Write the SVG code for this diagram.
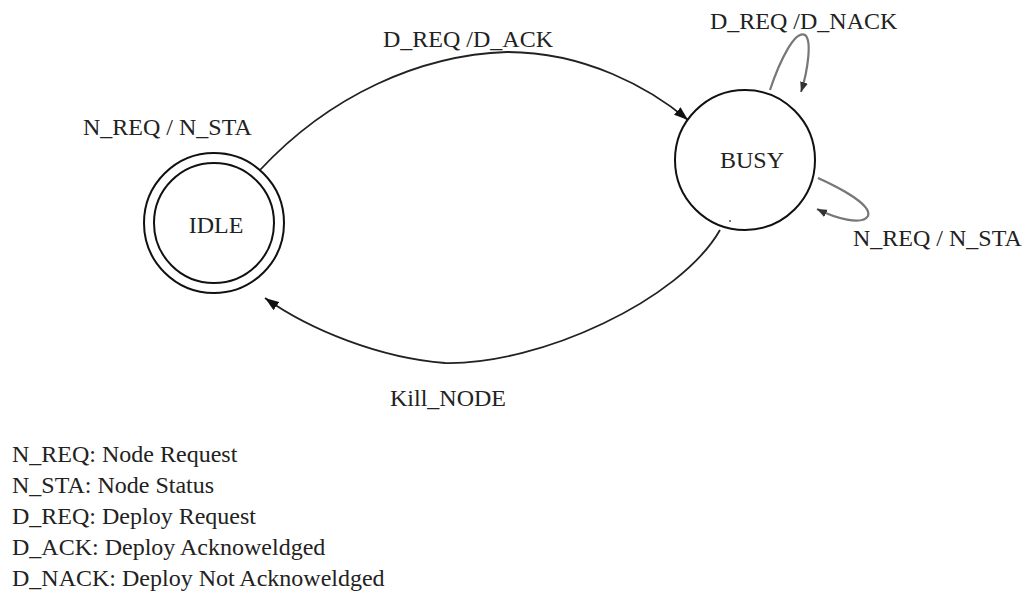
<svg xmlns="http://www.w3.org/2000/svg" width="1036" height="592" viewBox="0 0 1036 592">
  <style>
    text { font-family: "Liberation Serif", "Times New Roman", serif; font-size: 24px; fill: #222; }
    .state { fill: #fff; stroke: #111; stroke-width: 2; }
    .edge { fill: none; stroke: #222; stroke-width: 1.8; }
    .loop { fill: none; stroke: #777; stroke-width: 2.2; }
  </style>
  <defs>
    <marker id="arrow" viewBox="0 0 14 10" refX="14" refY="5" markerWidth="14" markerHeight="10" markerUnits="userSpaceOnUse" orient="auto">
      <path d="M0,0 L14,5 L0,10 Z" fill="#111"/>
    </marker>
    <marker id="arrow-small" viewBox="0 0 10 8" refX="10" refY="4" markerWidth="10" markerHeight="8" markerUnits="userSpaceOnUse" orient="auto">
      <path d="M0,0 L10,4 L0,8 Z" fill="#333"/>
    </marker>
  </defs>
  <rect width="1036" height="592" fill="#fff"/>

  <!-- connectors -->
  <g id="connectors">
    <path id="e-dack" class="edge" d="M260,170 C330,95 420,55 507,52 C585,52 650,88 688,120" marker-end="url(#arrow)"/>
    <path id="e-kill" class="edge" d="M720,230 C680,300 540,365 445,363 C380,358 310,330 265,298" marker-end="url(#arrow)"/>
    <path id="e-dnack" class="loop" d="M770,90 C780,60 795,30 805,35 C812,40 808,70 801,92" marker-end="url(#arrow-small)"/>
    <path id="e-nsta-busy" class="loop" d="M818,178 C840,188 872,205 868,216 C862,226 835,218 817,209" marker-end="url(#arrow-small)"/>
  </g>

  <!-- states -->
  <g id="idle">
    <circle class="state" cx="214" cy="223" r="70"/>
    <circle class="state" cx="214" cy="223" r="60"/>
    <text x="216" y="233" text-anchor="middle">IDLE</text>
  </g>
  <g id="busy">
    <circle class="state" cx="745" cy="160" r="70"/>
    <circle cx="730" cy="221" r="1" fill="#555"/>
    <text x="752" y="168" text-anchor="middle">BUSY</text>
  </g>

  <!-- transition labels -->
  <g id="labels">
    <text x="83" y="135">N_REQ / N_STA</text>
    <text x="383" y="47">D_REQ /D_ACK</text>
    <text x="710" y="29">D_REQ /D_NACK</text>
    <text x="853" y="246">N_REQ / N_STA</text>
    <text x="390" y="406">Kill_NODE</text>
  </g>

  <!-- legend -->
  <g id="legend">
    <text x="12" y="462">N_REQ: Node Request</text>
    <text x="12" y="493">N_STA: Node Status</text>
    <text x="12" y="524">D_REQ: Deploy Request</text>
    <text x="12" y="555">D_ACK: Deploy Acknoweldged</text>
    <text x="12" y="586">D_NACK: Deploy Not Acknoweldged</text>
  </g>
</svg>
